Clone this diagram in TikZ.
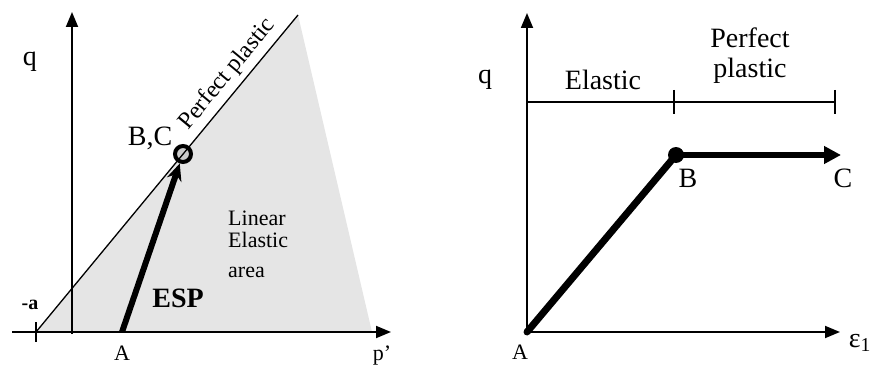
\documentclass[tikz,border=0pt]{standalone}
\usepackage{fontspec}
\setmainfont{Liberation Serif}
\usetikzlibrary{positioning}
\usetikzlibrary{arrows.meta}

\begin{document}
\begin{tikzpicture}[x=1pt,y=-1pt,
    axis/.style={line width=1.8pt, -{Triangle[length=15pt,width=12pt]}},
    thick path/.style={line width=6pt},
    lbl/.style={inner sep=0pt, font=\fontsize{24}{26}\selectfont},
    big lbl/.style={inner sep=0pt, font=\fontsize{28}{30}\selectfont}]
\useasboundingbox (0,0) rectangle (876,369);

% stress path plot (p', q)
\fill[gray!20] (36,332) -- (298,15) -- (372,332) -- cycle;
\coordinate (P0) at (12,332);
\coordinate (P1) at (391,332);
\coordinate (O1) at (72,334);
\coordinate (Q1) at (72,12);
\coordinate (mA) at (36,332);
\coordinate (F) at (298,15);
\coordinate (A1) at (122,332);
\node[circle, draw, fill=gray!40, line width=4pt, minimum size=16pt, inner sep=0pt] (BC) at (183,154) {};

\draw[axis] (P0) -- (P1);
\draw[axis] (O1) -- (Q1);
\draw[line width=1.8pt] ([yshift=10pt]mA) -- ([yshift=-10pt]mA);
\draw[line width=1.3pt] (mA) -- node[pos=0.78, sloped, above=5pt, lbl] {Perfect plastic} (F);
\draw[thick path, -{Stealth[length=17pt,width=15pt]}] (A1) -- (BC);

\node[lbl, font=\fontsize{20}{22}\selectfont\bfseries] (la) at (30,305) {-a};
\node[lbl, font=\fontsize{22}{24}\selectfont] (lA) at (122,353) {A};
\node[lbl, font=\fontsize{22}{24}\selectfont] (lp) at (382,356) {p'};
\node[big lbl] (lq) at (30,62) {q};
\node[big lbl] (lBC) at (150,138) {B,C};
\node[big lbl, font=\fontsize{28}{30}\selectfont\bfseries] (lESP) at (178,298) {ESP};
\node[lbl, font=\fontsize{22}{22}\selectfont, align=left, anchor=west] (lLin) at (228,244) {Linear\\Elastic\\[8pt]area};

% stress-strain plot (eps1, q)
\coordinate (O2) at (527,332);
\coordinate (Q2) at (527,13);
\coordinate (E2) at (840,332);
\coordinate (H0) at (527,102);
\coordinate (H1) at (674,102);
\coordinate (H2) at (835,102);
\node[circle, fill=black, minimum size=16pt, inner sep=0pt] (B2) at (676,155) {};
\coordinate (C2) at (841,155);

\draw[axis] (O2) -- (E2);
\draw[axis] ([yshift=-1pt]O2) -- (Q2);
\draw[line width=1.4pt] (H0) -- (H2);
\draw[line width=1.4pt] ([yshift=12pt]H1) -- ([yshift=-12pt]H1);
\draw[line width=1.4pt] ([yshift=12pt]H2) -- ([yshift=-12pt]H2);
\draw[thick path, line width=7pt, line cap=round] (O2) -- (B2.center);
\draw[thick path, -{Triangle[length=17pt,width=17pt]}] (B2.center) -- (C2);

\node[big lbl] (rq) at (485,80) {q};
\node[big lbl] (rEl) at (603,80) {Elastic};
\node[big lbl, align=center] (rPl) at (750,56) {Perfect\\plastic};
\node[big lbl] (rB) at (688,178) {B};
\node[big lbl] (rC) at (843,178) {C};
\node[lbl, font=\fontsize{22}{24}\selectfont] (rA) at (520,352) {A};
\node[big lbl] (rE) at (860,343) {ε\textsubscript{1}};
\end{tikzpicture}
\end{document}
